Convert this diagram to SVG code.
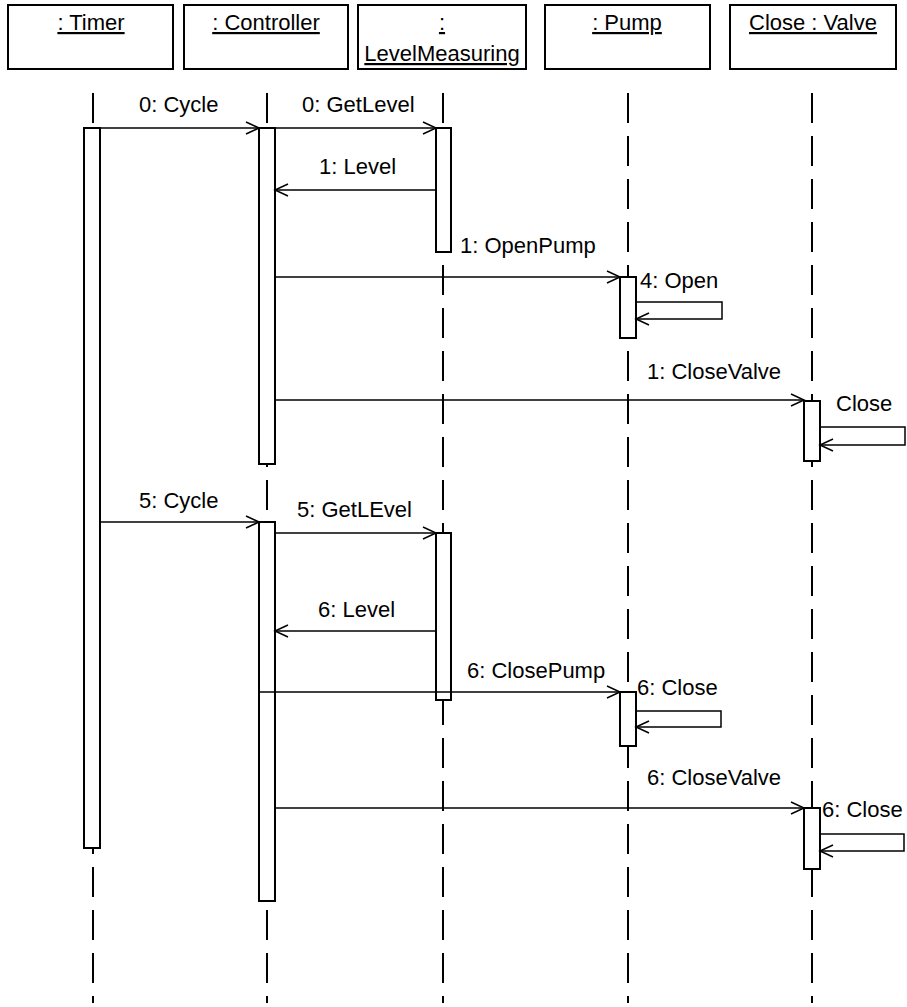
<svg xmlns="http://www.w3.org/2000/svg" width="907" height="1007" viewBox="0 0 907 1007">
<style>
text{font-family:"Liberation Sans",Arial,sans-serif;font-size:22px;fill:#000}
.hdr{text-anchor:middle;text-decoration:underline}
.box{fill:#fff;stroke:#000;stroke-width:2}
.life{stroke:#000;stroke-width:2;stroke-dasharray:30 13;fill:none}
.bar{fill:#fff;stroke:#000;stroke-width:2}
.msg{fill:none;stroke:#000;stroke-width:1.5;marker-end:url(#arr)}
</style>
<defs>
<marker id="arr" markerUnits="userSpaceOnUse" markerWidth="16" markerHeight="14" refX="14" refY="7" orient="auto">
<path d="M1,1 L14,7 L1,13" fill="none" stroke="#000" stroke-width="1.5"/>
</marker>
</defs>
<rect width="907" height="1007" fill="#fff"/>
<g id="lifelines">
<line class="life" x1="93" y1="93" x2="93" y2="1003"/>
<line class="life" x1="267" y1="93" x2="267" y2="1003"/>
<line class="life" x1="443" y1="93" x2="443" y2="1003"/>
<line class="life" x1="628" y1="93" x2="628" y2="1003"/>
<line class="life" x1="812" y1="93" x2="812" y2="1003"/>
</g>
<g id="timer">
<rect class="box" x="8" y="5" width="165" height="64"/>
<text class="hdr" x="91" y="30">: Timer</text>
<rect class="bar" x="84" y="128" width="16" height="720"/>
</g>
<g id="controller">
<rect class="box" x="184" y="5" width="164" height="64"/>
<text class="hdr" x="266" y="30">: Controller</text>
<rect class="bar" x="259" y="128" width="16" height="336"/>
<rect class="bar" x="259" y="522" width="16" height="379"/>
</g>
<g id="levelmeasuring">
<rect class="box" x="358" y="5" width="168" height="64"/>
<text class="hdr" x="442" y="30">:</text>
<text class="hdr" x="442" y="61">LevelMeasuring</text>
<rect class="bar" x="436" y="128" width="15" height="124"/>
<rect class="bar" x="436" y="533" width="15" height="167"/>
</g>
<g id="pump">
<rect class="box" x="545" y="5" width="165" height="64"/>
<text class="hdr" x="627" y="30">: Pump</text>
<rect class="bar" x="620" y="277" width="16" height="61"/>
<rect class="bar" x="620" y="692" width="16" height="54"/>
</g>
<g id="valve">
<rect class="box" x="730" y="5" width="166" height="64"/>
<text class="hdr" x="813" y="30">Close : Valve</text>
<rect class="bar" x="804" y="401" width="16" height="60"/>
<rect class="bar" x="804" y="808" width="16" height="61"/>
</g>
<g id="connectors">
<path class="msg" d="M100,128 H259"/>
<path class="msg" d="M275,128 H436"/>
<path class="msg" d="M436,190 H275"/>
<path class="msg" d="M275,277 H620"/>
<path class="msg" d="M636,302 H722 V319 H636"/>
<path class="msg" d="M275,400 H804"/>
<path class="msg" d="M820,427 H905 V445 H820"/>
<path class="msg" d="M100,522 H259"/>
<path class="msg" d="M275,533 H436"/>
<path class="msg" d="M436,631 H275"/>
<path class="msg" d="M259,692 H620"/>
<path class="msg" d="M636,711 H721 V727 H636"/>
<path class="msg" d="M275,808 H804"/>
<path class="msg" d="M820,834 H904 V851 H820"/>
</g>
<g id="labels">
<text x="139" y="112">0: Cycle</text>
<text x="302" y="112">0: GetLevel</text>
<text x="319" y="174">1: Level</text>
<text x="460" y="253">1: OpenPump</text>
<text x="640" y="288">4: Open</text>
<text x="647" y="379">1: CloseValve</text>
<text x="836" y="411">Close</text>
<text x="139" y="508">5: Cycle</text>
<text x="297" y="517">5: GetLEvel</text>
<text x="318" y="617">6: Level</text>
<text x="467" y="678">6: ClosePump</text>
<text x="637" y="695">6: Close</text>
<text x="647" y="785">6: CloseValve</text>
<text x="822" y="817">6: Close</text>
</g>
</svg>
